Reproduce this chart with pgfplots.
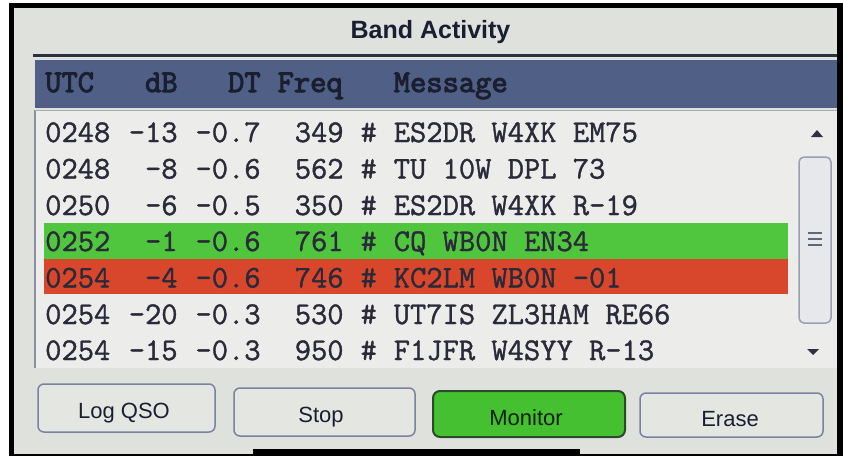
\documentclass[border=0pt]{standalone}
\usepackage{pgfplots}
\usepackage{pgfplotstable}
\pgfplotsset{compat=1.18}
\usepackage{fontspec}
\newfontfamily\mono{Latin Modern Mono}[FakeBold=1.2]
\newfontfamily\monob{Latin Modern Mono}[FakeBold=3.2]
\newfontfamily\ui{Liberation Sans}
\newcommand\rowfont{\mono\fontsize{31.6}{34}\selectfont}
\newcommand\hdrfont{\monob\fontsize{31.6}{34}\selectfont}
\newcommand\btnfont{\ui\fontsize{22}{24}\selectfont}
\definecolor{bg}{HTML}{DFE1DD}
\definecolor{listbg}{HTML}{ECEDEB}
\definecolor{hdr}{HTML}{4F5F85}
\definecolor{hdrtxt}{HTML}{1A1E2E}
\definecolor{txt}{HTML}{2A2A38}
\definecolor{rowgreen}{HTML}{4FC63E}
\definecolor{rowred}{HTML}{D8472C}
\definecolor{btnborder}{HTML}{7A82A0}
\definecolor{btnfill}{HTML}{E4E6E2}
\definecolor{mongreen}{HTML}{44C030}
\definecolor{monborder}{HTML}{2A4A2A}
\definecolor{montxt}{HTML}{102010}
\definecolor{titletxt}{HTML}{1A1E30}
\definecolor{titleline}{HTML}{2A3040}
\definecolor{listborder}{HTML}{8A90A0}
\definecolor{listtop}{HTML}{A8ACB4}
\definecolor{arrow}{HTML}{303040}
\definecolor{thumbborder}{HTML}{9AA0B0}
\definecolor{thumbfill}{HTML}{E6E8EC}
\definecolor{grip}{HTML}{606878}

\pgfplotstableread[col sep=comma]{
yb,utc,db,dt,freq,msg
142,0248,-13,-0.7,349,ES2DR W4XK EM75
178.5,0248,-8,-0.6,562,TU 10W DPL 73
215,0250,-6,-0.5,350,ES2DR W4XK R-19
251,0252,-1,-0.6,761,CQ WB0N EN34
287.5,0254,-4,-0.6,746,KC2LM WB0N -01
324,0254,-20,-0.3,530,UT7IS ZL3HAM RE66
360,0254,-15,-0.3,950,F1JFR W4SYY R-13
}\rows

\begin{document}
\begin{tikzpicture}
\begin{axis}[width=843pt,height=456pt,scale only axis,
  xmin=0,xmax=843,ymin=0,ymax=456,y dir=reverse,hide axis,clip=false]
% frame and background
\fill[white] (axis cs:0,0) rectangle (axis cs:843,456);
\fill[black] (axis cs:9,3) rectangle (axis cs:843,456);
\fill[bg] (axis cs:14,8) rectangle (axis cs:837,454);
% title
\node[anchor=base, inner sep=0pt, text=titletxt, font={\ui\bfseries\fontsize{25}{27}\selectfont}] at (axis cs:430.5,38) {Band Activity};
\fill[titleline] (axis cs:33,54) rectangle (axis cs:837,57);
% header bar
\fill[hdr] (axis cs:35,60) rectangle (axis cs:837,108);
\node[anchor=base west, inner sep=0pt, text=hdrtxt, font=\hdrfont] at (axis cs:45,92) {UTC};
\node[anchor=base east, inner sep=0pt, text=hdrtxt, font=\hdrfont] at (axis cs:177.8,92) {dB};
\node[anchor=base east, inner sep=0pt, text=hdrtxt, font=\hdrfont] at (axis cs:260.8,92) {DT};
\node[anchor=base west, inner sep=0pt, text=hdrtxt, font=\hdrfont] at (axis cs:277.4,92) {Freq};
\node[anchor=base west, inner sep=0pt, text=hdrtxt, font=\hdrfont] at (axis cs:393.6,92) {Message};
% list area
\fill[listbg] (axis cs:35,110) rectangle (axis cs:837,368);
\draw[listborder, line width=1.5pt] (axis cs:35,110) -- (axis cs:35,368);
\draw[listtop, line width=1pt] (axis cs:35,110) -- (axis cs:837,110);
% highlighted rows
\fill[rowgreen] (axis cs:44,223) rectangle (axis cs:788,259);
\fill[rowred] (axis cs:44,259) rectangle (axis cs:788,294);
% row texts
\pgfplotsset{rowtext/.style={draw=none, mark=none, nodes near coords,
  point meta=explicit symbolic,
  every node near coord/.append style={anchor=#1, inner sep=0pt, text=txt, font=\rowfont}}}
\addplot[rowtext=base west] table[x expr=45, y=yb, meta=utc] {\rows};
\addplot[rowtext=base east] table[x expr=177.8, y=yb, meta=db] {\rows};
\addplot[rowtext=base east] table[x expr=260.8, y=yb, meta=dt] {\rows};
\addplot[rowtext=base east] table[x expr=343.8, y=yb, meta=freq] {\rows};
\addplot[rowtext=base west, nodes near coords={\#}] table[x expr=360.4, y=yb, meta=utc] {\rows};
\addplot[rowtext=base west] table[x expr=393.6, y=yb, meta=msg] {\rows};
% scrollbar
\fill[arrow] (axis cs:811,137) -- (axis cs:823,137) -- (axis cs:817,130) -- cycle;
\fill[arrow] (axis cs:807,349) -- (axis cs:819,349) -- (axis cs:813,355) -- cycle;
\draw[thumbborder, fill=thumbfill, line width=1.5pt, rounded corners=5pt] (axis cs:799,157) rectangle (axis cs:831,323);
\draw[grip, line width=1.5pt] (axis cs:808,233) -- (axis cs:822,233);
\draw[grip, line width=1.5pt] (axis cs:808,239) -- (axis cs:822,239);
\draw[grip, line width=1.5pt] (axis cs:808,245) -- (axis cs:822,245);
% buttons
\draw[btnborder, fill=btnfill, line width=1.5pt, rounded corners=6pt] (axis cs:38,384) rectangle (axis cs:215,432);
\draw[btnborder, fill=btnfill, line width=1.5pt, rounded corners=6pt] (axis cs:234,388) rectangle (axis cs:415,436);
\draw[monborder, fill=mongreen, line width=2pt, rounded corners=7pt] (axis cs:433,391) rectangle (axis cs:625,437);
\draw[btnborder, fill=btnfill, line width=1.5pt, rounded corners=6pt] (axis cs:640,393) rectangle (axis cs:823,437);
\node[anchor=base, inner sep=0pt, text=titletxt, font=\btnfont] at (axis cs:124,418) {Log QSO};
\node[anchor=base, inner sep=0pt, text=titletxt, font=\btnfont] at (axis cs:321,422) {Stop};
\node[anchor=base, inner sep=0pt, text=montxt, font=\btnfont] at (axis cs:526,425) {Monitor};
\node[anchor=base, inner sep=0pt, text=titletxt, font=\btnfont] at (axis cs:730,426) {Erase};
% bottom strip
\fill[black] (axis cs:253,449) rectangle (axis cs:580,456);
\end{axis}
\end{tikzpicture}
\end{document}
